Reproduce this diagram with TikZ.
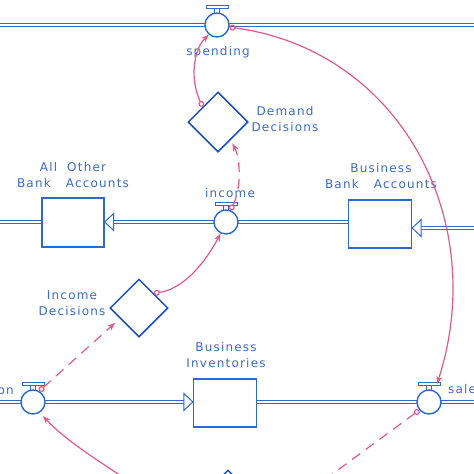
\documentclass[tikz,border=0pt]{standalone}
\usepackage{fontspec}
\newfontfamily\lblfont[LetterSpace=10]{DejaVu Sans}
\usetikzlibrary{shapes.geometric,arrows.meta,calc,backgrounds}
\definecolor{pipecol}{HTML}{2A6AD2}
\definecolor{diacol}{HTML}{1C4FC4}
\definecolor{txtcol}{HTML}{3A6CC4}
\definecolor{linkcol}{HTML}{E05A8C}
\newcommand\myvalvebar[1]{%
  \draw[pipecol, line width=0.9pt, fill=white] ($(#1.center)+(-11,-20)$) rectangle ($(#1.center)+(11,-17)$);
  \draw[pipecol, line width=0.9pt] ($(#1.center)+(-2.5,-17)$) -- ($(#1.center)+(-2.5,-11.7)$)
     ($(#1.center)+(2.5,-17)$) -- ($(#1.center)+(2.5,-11.7)$);
}
\begin{document}
\begin{tikzpicture}[x=1pt,y=-1pt,
  pipe/.style={draw=pipecol, double=white, double distance=1.6pt, line width=1pt},
  valve/.style={circle, draw=pipecol, line width=1.4pt, fill=white, minimum size=24pt, inner sep=0pt},
  stock/.style={rectangle, draw=pipecol, line width=1.3pt, fill=white, minimum width=63pt, minimum height=48pt, inner sep=0pt},
  dec/.style={diamond, draw=diacol, line width=1.5pt, aspect=1, minimum width=60pt, minimum height=60pt, inner sep=0pt},
  lbl/.style={text=txtcol, font=\lblfont\fontsize{12}{16}\selectfont, align=center, inner sep=0pt},
  ftip/.style={draw=pipecol, line width=1pt, fill=white},
  link/.style={draw=linkcol, line width=1.2pt, arrows={Circle[open,length=6pt,width=6pt]-Stealth[length=8pt,width=6pt]}},
  dlink/.style={link, dash pattern=on 10pt off 7pt},
]
\useasboundingbox (0,0) rectangle (474,474);

% nodes
\node[valve] (spend) at (217,25) {};
\node[dec] (dd) at (218,122) {};
\node[valve] (inc) at (226,222) {};
\node[stock, minimum width=62pt, minimum height=49pt] (aoba) at (73,222.5) {};
\node[stock] (bba) at (380,224) {};
\node[dec, minimum width=58pt, minimum height=58pt] (id) at (139,308) {};
\node[valve] (prod) at (33,402) {};
\node[stock] (bi) at (225,403) {};
\node[valve] (sales) at (429,402) {};
\node[dec] (bd) at (228,500) {};

% free ends
\coordinate (tl) at (-5,25);
\coordinate (tr) at (480,25);
\coordinate (lo) at (-5,222);
\coordinate (ri) at (480,228);
\coordinate (bl) at (-5,402);
\coordinate (br) at (480,402);
\coordinate (salesin) at ($(sales.center)+(8,-18)$);
\coordinate (ddin) at ($(dd.south east)+(-1,6)$);
\coordinate (idin) at ($(id.south west)+(-9,0)$);
\coordinate (sout) at (297,500);
\coordinate (bin) at (135,485);
\coordinate (pin) at ($(prod.center)+(10,14)$);

% pipes
\begin{scope}[on background layer]
  \fill[white] (0,0) rectangle (474,474);
  \draw[pipe] (tl) -- (tr);
  \draw[pipe] (bba.west |- inc.center) -- ($(aoba.east |- inc.center)+(9,0)$);
  \draw[pipe] (lo) -- (aoba.west |- inc.center);
  \draw[pipe] (ri) -- ($(bba.east |- ri)+(9,0)$);
  \draw[pipe] (bl) -- ($(bi.west |- prod.center)+(-9,0)$);
  \draw[pipe] (bi.east |- sales.center) -- (br);
\end{scope}

% flow tips
\draw[ftip] (aoba.east |- inc.center) -- ++(9,-8.5) -- ++(0,17) -- cycle;
\draw[ftip] (bba.east |- ri) -- ++(9,-8.5) -- ++(0,17) -- cycle;
\draw[ftip] (bi.west |- prod.center) -- ++(-9,-8.5) -- ++(0,17) -- cycle;

% valve bars
\myvalvebar{spend}
\myvalvebar{inc}
\myvalvebar{prod}
\myvalvebar{sales}

% labels
\node[lbl] (lspend) at (218,52) {spending};
\node[lbl] (ldd) at (285,119) {Demand\\Decisions};
\node[lbl] (laoba) at (73,175) {All\ \ Other\\Bank\ \ \ Accounts};
\node[lbl] (linc) at (230,193) {income};
\node[lbl] (lbba) at (381,176.5) {Business\\Bank\ \ \ Accounts};
\node[lbl] (lid) at (72,303.5) {Income\\Decisions};
\node[lbl] (lbi) at (226,355.5) {Business\\Inventories};
\node[lbl, anchor=east] (lprod) at (14,391) {production};
\node[lbl, anchor=west] (lsales) at (448,389) {sales};

% links
\draw[link] (dd.north west) .. controls (190,80) and (193,50) .. (spend.-130);
\draw[link] (spend.-10) .. controls (400,50) and (490,220) .. (salesin);
\draw[dlink] (inc.70) .. controls (241,190) and (241,160) .. (ddin);
\draw[link] (id.north east) .. controls (178,290) and (200,272) .. (inc.-115);
\draw[dlink] (prod.60) -- (idin);
\draw[dlink] (sales.-140) -- (sout);
\draw[link] (bin) .. controls (100,462) and (65,440) .. (pin);
\end{tikzpicture}
\end{document}
